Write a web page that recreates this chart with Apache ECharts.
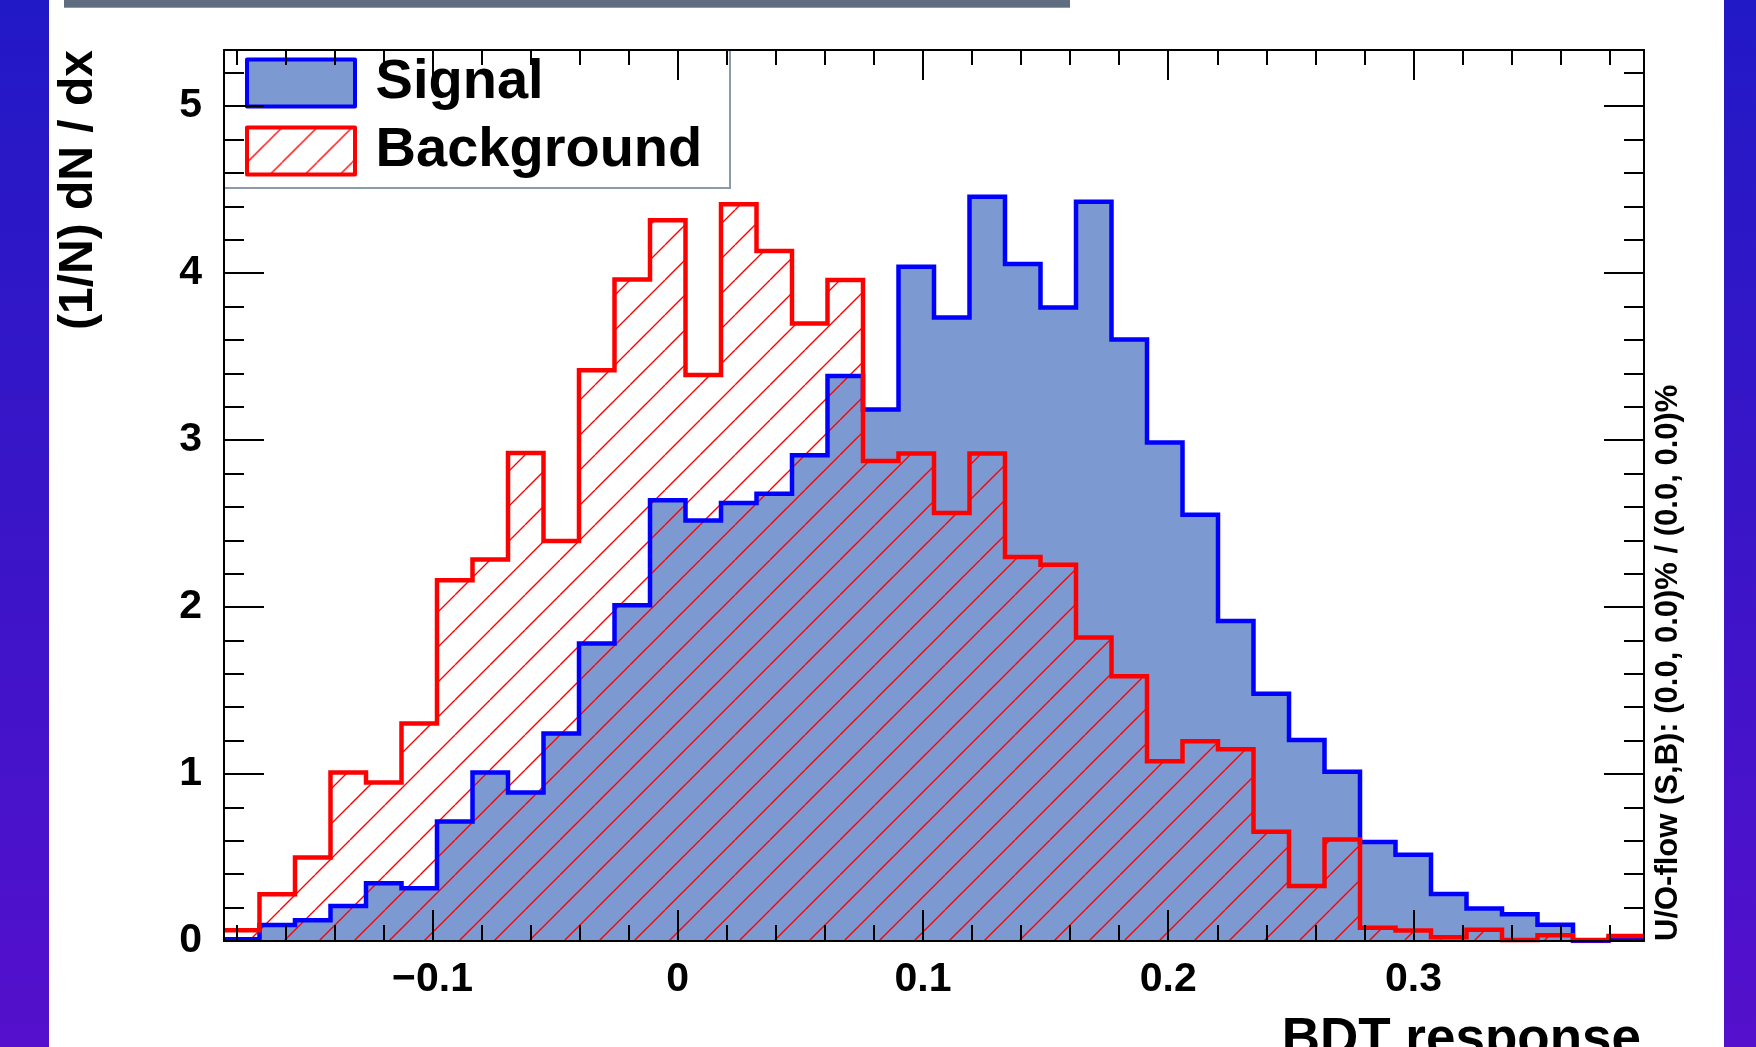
<!DOCTYPE html>
<html>
<head>
<meta charset="utf-8">
<script src="https://cdn.jsdelivr.net/npm/echarts@6/dist/echarts.min.js"></script>
<style>
html,body{margin:0;padding:0;width:1756px;height:1047px;overflow:hidden;}
body{background:linear-gradient(180deg,#2219c6 0%,#3a15c8 50%,#5510cc 100%);}
#paper{position:absolute;left:49px;top:0;width:1675px;height:1047px;background:#ffffff;}
#bar{position:absolute;left:64px;top:0;width:1006px;height:7px;background:#5f6d80;border-bottom:1px solid #8d99a6;}
#chart{position:absolute;left:0;top:0;width:1756px;height:1047px;}
</style>
</head>
<body>
<div id="paper"></div>
<div id="bar"></div>
<div id="chart"></div>
<script>
// ---- data ----
const xMin = -0.185;
const xMax = 0.394;
const nBins = 40;
const yMax = 5.336;

const signal = [
  0.010, 0.096, 0.124, 0.210, 0.346, 0.316, 0.716, 1.009, 0.889, 1.243,
  1.781, 2.010, 2.639, 2.519, 2.623, 2.679, 2.909, 3.383, 3.183, 4.038,
  3.734, 4.457, 4.054, 3.794, 4.427, 3.602, 2.985, 2.553, 1.917, 1.480,
  1.203, 1.013, 0.593, 0.517, 0.282, 0.194, 0.160, 0.097, 0.000, 0.012
];
const background = [
  0.064, 0.280, 0.500, 1.009, 0.949, 1.303, 2.160, 2.284, 2.923, 2.395,
  3.418, 3.962, 4.317, 3.389, 4.412, 4.133, 3.698, 3.958, 2.875, 2.919,
  2.563, 2.919, 2.300, 2.254, 1.818, 1.585, 1.076, 1.196, 1.148, 0.654,
  0.330, 0.608, 0.080, 0.063, 0.022, 0.068, 0.006, 0.034, 0.006, 0.030
];

const xTicks = [-0.1, 0, 0.1, 0.2, 0.3];
const xTickLabels = ['\u22120.1', '0', '0.1', '0.2', '0.3'];
const yTicks = [0, 1, 2, 3, 4, 5];
const yTickLabels = ['0', '1', '2', '3', '4', '5'];

const seriesNames = ['Signal', 'Background'];
const xTitle = 'BDT response';
const yTitle = '(1/N) dN / dx';
const flowText = 'U/O-flow (S,B): (0.0, 0.0)% / (0.0, 0.0)%';

// ---- helpers ----
const FONT = '"Liberation Sans", Arial, Helvetica, sans-serif';

function stepData(vals) {
  const w = (xMax - xMin) / nBins;
  const d = vals.map((v, i) => [xMin + i * w, v]);
  d.push([xMax, vals[vals.length - 1]]);
  return d;
}

function hatchCanvas() {
  const S = 35;
  const c = document.createElement('canvas');
  c.width = S; c.height = S;
  const g = c.getContext('2d');
  g.strokeStyle = '#ff0000';
  g.lineWidth = 1.4;
  g.beginPath();
  for (let k = -1; k <= 1; k++) {
    g.moveTo(k * S, S);
    g.lineTo(k * S + S, 0);
  }
  g.stroke();
  return c;
}
const hatch = { image: hatchCanvas(), repeat: 'repeat' };

function labelFrom(ticks, labels) {
  return function (v) {
    const i = ticks.findIndex(t => Math.abs(t - v) < 1e-9);
    return i >= 0 ? labels[i] : '';
  };
}

const lineBlack = { color: '#000', width: 2 };

function xAxisCfg(pos, showLabel, major, minor) {
  return {
    type: 'value', position: pos, min: xMin, max: xMax, z: 5,
    axisLine: { show: true, onZero: false, lineStyle: lineBlack },
    axisTick: { show: true, inside: true, length: major, customValues: xTicks, lineStyle: lineBlack },
    minorTick: { show: true, splitNumber: 5, length: minor, lineStyle: lineBlack },
    splitLine: { show: false },
    minorSplitLine: { show: false },
    axisLabel: {
      show: showLabel, customValues: xTicks, formatter: labelFrom(xTicks, xTickLabels),
      margin: 18, color: '#000', fontSize: 41, fontWeight: 'bold', fontFamily: FONT
    }
  };
}
function yAxisCfg(pos, showLabel, major, minor) {
  return {
    type: 'value', position: pos, min: 0, max: yMax, interval: 1, z: 5,
    axisLine: { show: true, onZero: false, lineStyle: lineBlack },
    axisTick: { show: true, inside: true, length: major, customValues: yTicks, lineStyle: lineBlack },
    minorTick: { show: true, splitNumber: 5, length: minor, lineStyle: lineBlack },
    splitLine: { show: false },
    minorSplitLine: { show: false },
    axisLabel: {
      show: showLabel, customValues: yTicks, formatter: labelFrom(yTicks, yTickLabels),
      margin: 22, padding: [11, 0, 0, 0], color: '#000', fontSize: 41, fontWeight: 'bold', fontFamily: FONT
    }
  };
}

const chart = echarts.init(document.getElementById('chart'), null, { renderer: 'canvas' });

chart.setOption({
  animation: false,
  backgroundColor: 'transparent',
  grid: { left: 224, right: 112, top: 50, bottom: 106, containLabel: false, outerBoundsMode: 'none', show: false },
  xAxis: [ xAxisCfg('bottom', true, 31, 16), xAxisCfg('top', false, 30, 15) ],
  yAxis: [ yAxisCfg('left', true, 40, 20), yAxisCfg('right', false, 40, 20) ],
  legend: {
    show: true, orient: 'vertical', left: 245, top: 55, padding: 0,
    itemGap: 12, itemWidth: 108, itemHeight: 47, selectedMode: false, z: 4,
    formatter: ' {name}',
    textStyle: { fontSize: 56, fontWeight: 'bold', fontFamily: FONT, color: '#000' },
    data: [
      { name: seriesNames[0], icon: 'rect', itemStyle: { color: '#7d99d1', borderColor: '#0000ff', borderWidth: 4, borderJoin: 'round' } },
      { name: seriesNames[1], icon: 'rect', itemStyle: { color: hatch, borderColor: '#ff0000', borderWidth: 4, borderJoin: 'round' } }
    ]
  },
  graphic: [
    { type: 'rect', z: 3, silent: true,
      shape: { x: 224, y: 50, width: 506, height: 138 },
      style: { fill: '#ffffff', stroke: '#8c9bab', lineWidth: 2 } },
    { type: 'text', z: 6, silent: true, x: 79, y: 50, rotation: Math.PI / 2,
      style: { text: yTitle, font: 'bold 48px ' + FONT, fill: '#000', textAlign: 'right', textVerticalAlign: 'middle' } },
    { type: 'text', z: 6, silent: true, x: 1641, y: 1014,
      style: { text: xTitle, font: 'bold 53px ' + FONT, fill: '#000', textAlign: 'right', textVerticalAlign: 'top' } },
    { type: 'text', z: 6, silent: true, x: 1668, y: 941, rotation: Math.PI / 2,
      style: { text: flowText, font: 'bold 31px ' + FONT, fill: '#000', textAlign: 'left', textVerticalAlign: 'middle' } }
  ],
  series: [
    {
      name: seriesNames[0], type: 'line', step: 'end', xAxisIndex: 0, yAxisIndex: 0,
      data: stepData(signal), symbol: 'none', showSymbol: false, silent: true, z: 2,
      itemStyle: { color: '#0000ff' },
      lineStyle: { color: '#0000ff', width: 4.5, join: 'miter' },
      areaStyle: { color: '#7d99d1', opacity: 1, origin: 'start' },
      emphasis: { disabled: true }
    },
    {
      name: seriesNames[1], type: 'line', step: 'end', xAxisIndex: 0, yAxisIndex: 0,
      data: stepData(background), symbol: 'none', showSymbol: false, silent: true, z: 2,
      itemStyle: { color: '#ff0000' },
      lineStyle: { color: '#ff0000', width: 4.5, join: 'miter' },
      areaStyle: { color: hatch, opacity: 1, origin: 'start' },
      emphasis: { disabled: true }
    }
  ]
});
</script>
</body>
</html>
